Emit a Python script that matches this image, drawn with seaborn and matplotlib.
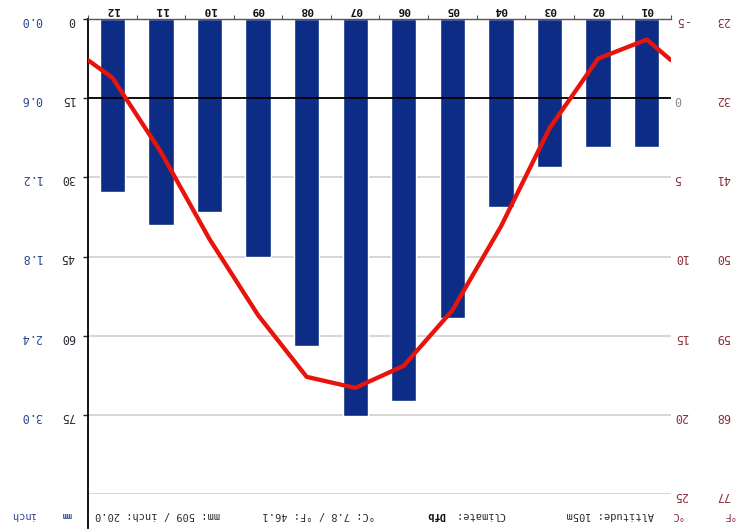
import numpy as np
import pandas as pd
import matplotlib
matplotlib.use("Agg")
import matplotlib.pyplot as plt
import seaborn as sns

# data read from the (upside-down) climate chart
months = ["01", "02", "03", "04", "05", "06", "07", "08", "09", "10", "11", "12"]
precip_mm = [24.3, 24.3, 28.1, 35.7, 56.6, 72.3, 75.2, 61.9, 45.0, 36.5, 39.1, 32.8]
temp_c = [-3.7, -2.5, 1.9, 8.1, 13.4, 16.9, 18.3, 17.6, 13.7, 8.9, 3.4, -1.3]
edge_temp_c = -2.4  # value of the line where it meets both chart edges

mm_ticks = [0, 15, 30, 45, 60, 75]
mm_labels = ["0", "15", "30", "45", "60", "75"]
inch_labels = ["0.0", "0.6", "1.2", "1.8", "2.4", "3.0"]
c_ticks = [-5, 0, 5, 10, 15, 20, 25]
c_labels = ["-5", "0", "5", "10", "15", "20", "25"]
f_labels = ["23", "32", "41", "50", "59", "68", "77"]

BAR = "#0c2c86"
RED = "#e8140c"
BLUE = "#2c4a8e"
MAROON = "#8a2f3a"
DARK = "#2a2a32"

sns.set_style("white")
plt.rcParams["font.family"] = ["DejaVu Sans Mono", "DejaVu Sans"]

fig = plt.figure(figsize=(7.39, 5.30), dpi=100)
ax = fig.add_axes([88 / 739, 1 - 494 / 530, 583 / 739, 475 / 530])

# precipitation bars
pos = np.arange(len(months))
df = pd.DataFrame({"pos": pos, "mm": precip_mm})
sns.barplot(data=df, x="pos", y="mm", native_scale=True, color=BAR,
            saturation=1, width=0.52, ax=ax, zorder=2)
ax.set_xlim(11.5, -0.5)
ax.set_ylim(90, 0)
ax.set_xlabel("")
ax.set_ylabel("")

ax.set_xticks(pos, labels=months)
ax.set_xticks(np.arange(-0.5, 12, 1), minor=True)
ax.xaxis.tick_top()
ax.tick_params(axis="x", which="major", length=0, pad=3, labelrotation=180,
               labelsize=8, labelcolor="#111111")
ax.tick_params(axis="x", which="minor", length=3, width=0.8, color="#555555")
for lab in ax.get_xticklabels():
    lab.set_fontweight("bold")

ax.set_yticks(mm_ticks, labels=mm_labels)
ax.set_yticks([90], minor=True)
ax.tick_params(axis="y", which="major", left=True, length=3.5, width=1, pad=6,
               labelrotation=180, labelsize=8.5, labelcolor=DARK)
ax.tick_params(axis="y", which="minor", length=0)
ax.yaxis.grid(True, which="both", color="#d0d0d0", lw=1.2)
ax.xaxis.grid(False, which="both")
ax.set_axisbelow(True)

ax.spines["right"].set_visible(False)
ax.spines["bottom"].set_visible(False)
ax.spines["top"].set_color("#555555")
ax.spines["top"].set_linewidth(1)
ax.spines["left"].set_color("black")
ax.spines["left"].set_linewidth(1.3)
ax.spines["left"].set_bounds(0, 96.4)

# inch labels
sec_in = ax.secondary_yaxis(-0.079)
sec_in.set_alignment("left")
sec_in.set_yticks(mm_ticks, labels=inch_labels)
sec_in.tick_params(length=0, pad=0, labelrotation=180, labelsize=8.5,
                   labelcolor=BLUE)
for s in sec_in.spines.values():
    s.set_visible(False)

# temperature line
ax2 = ax.twinx()
ax2.set_ylim(25, -5)
line_x = np.concatenate([[-0.5], pos, [11.5]])
line_t = [edge_temp_c] + temp_c + [edge_temp_c]
ax2.axhline(0, color="black", lw=1.3, zorder=1)
sns.lineplot(x=line_x, y=line_t, color=RED, lw=3.1, ax=ax2, zorder=3)
ax2.set_xlim(11.5, -0.5)
ax2.set_xlabel("")
ax2.set_ylabel("")
ax2.grid(False)
for s in ax2.spines.values():
    s.set_visible(False)
ax2.set_yticks(c_ticks, labels=c_labels)
ax2.tick_params(axis="y", right=True, length=0, pad=2, labelrotation=180,
                labelsize=8.5, labelcolor=MAROON)
ax2.get_yticklabels()[1].set_color("#8a8a8a")

sec_f = ax2.secondary_yaxis(1.077)
sec_f.set_alignment("right")
sec_f.set_yticks(c_ticks, labels=f_labels)
sec_f.tick_params(length=0, pad=0, labelrotation=180, labelsize=8.5,
                  labelcolor=MAROON)
for s in sec_f.spines.values():
    s.set_visible(False)

# footer line (upside down like the rest)
ty = 1 - 515 / 530
fs = 7.5
fig.text(24 / 739, ty, "inch", rotation=180, ha="center", va="center",
         color=BLUE, fontsize=fs)
fig.text(67 / 739, ty, "mm", rotation=180, ha="center", va="center",
         color=BLUE, fontsize=6, fontweight="bold")
fig.text(158 / 739, ty, "mm: 509 / inch: 20.0", rotation=180, ha="center",
         va="center", color=DARK, fontsize=fs)
fig.text(319 / 739, ty, "°C: 7.8 / °F: 46.1", rotation=180, ha="center",
         va="center", color=DARK, fontsize=fs)
fig.text(436 / 739, ty, "Dfb", rotation=180, ha="center", va="center",
         color="#111111", fontsize=fs, fontweight="bold")
fig.text(480 / 739, ty, "Climate:", rotation=180, ha="center", va="center",
         color=DARK, fontsize=fs)
fig.text(610 / 739, ty, "Altitude: 105m", rotation=180, ha="center",
         va="center", color=DARK, fontsize=fs)
fig.text(676 / 739, ty, "°C", rotation=180, ha="center", va="center",
         color=MAROON, fontsize=fs)
fig.text(728 / 739, ty, "°F", rotation=180, ha="center", va="center",
         color=MAROON, fontsize=fs)

fig.savefig("out.png", dpi=100, facecolor="white")
